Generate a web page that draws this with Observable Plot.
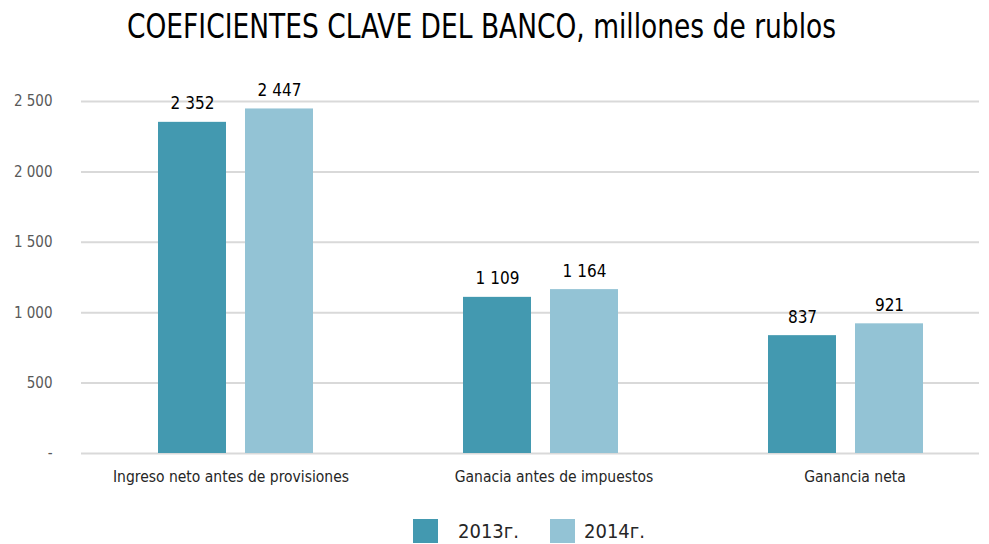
<!DOCTYPE html>
<html><head><meta charset="utf-8">
<script src="https://cdn.jsdelivr.net/npm/d3@7"></script>
<script src="https://cdn.jsdelivr.net/npm/@observablehq/plot@0.6"></script>
<style>
body{margin:0;background:#fff;width:989px;font-family:"Liberation Sans Narrow","DejaVu Sans Condensed","Open Sans",sans-serif;font-stretch:condensed;}
#title{height:60px;position:relative;}
#title span{position:absolute;left:127px;top:9px;font-size:33px;line-height:36px;white-space:nowrap;color:#000;transform-origin:left top;}
#legend{height:44px;position:relative;}
.sw{position:absolute;top:19px;width:25px;height:24px;}
.lt{position:absolute;top:19px;font-size:20px;line-height:24px;color:#262626;white-space:nowrap;}
</style></head>
<body>
<div id="title"><span>COEFICIENTES CLAVE DEL BANCO, millones de rublos</span></div>
<div id="chart"></div>
<div id="legend"></div>
<script>
const categories = ["Ingreso neto antes de provisiones", "Ganacia antes de impuestos", "Ganancia neta"];
const years = ["2013г.", "2014г."];
const values2013 = [2352, 1109, 837];
const values2014 = [2447, 1164, 921];
const yTicks = [0, 500, 1000, 1500, 2000, 2500];
const colors = ["#4399b0", "#93c3d5"];

const fmtNum = d3.formatLocale({decimal: ",", thousands: " ", grouping: [3]}).format(",");
const tickFmt = d => d === 0 ? "-" : fmtNum(d);

const d13 = categories.map((c, i) => ({category: c, value: values2013[i]}));
const d14 = categories.map((c, i) => ({category: c, value: values2014[i]}));

const font = '"Liberation Sans Narrow","DejaVu Sans Condensed","Open Sans",sans-serif';
const labelShift = [-5, 13, 9];

const chart = Plot.plot({
  width: 989,
  height: 440,
  marginLeft: 81,
  marginRight: 10,
  marginTop: 41,
  marginBottom: 47,
  style: {fontFamily: font, background: "#fff"},
  x: {domain: categories, range: [81.6, 999], padding: 0},
  y: {domain: [0, 2500]},
  marks: [
    Plot.ruleY(yTicks, {stroke: "#d9d9d9", strokeWidth: 2}),
    Plot.barY(d13, {x: "category", y: "value", fill: colors[0], insetLeft: 75, insetRight: 162}),
    Plot.barY(d14, {x: "category", y: "value", fill: colors[1], insetLeft: 162, insetRight: 75}),
    Plot.text(d13, {x: "category", y: "value", text: d => fmtNum(d.value), dx: -43.5, dy: -13, lineAnchor: "bottom", fontSize: 17, fill: "#000"}),
    Plot.text(d14, {x: "category", y: "value", text: d => fmtNum(d.value), dx: 43.5, dy: -13, lineAnchor: "bottom", fontSize: 17, fill: "#000"}),
    Plot.axisY({ticks: yTicks, tickSize: 0, tickPadding: 29, tickFormat: tickFmt, fontSize: 15, fill: "#595959", label: null}),
    ...categories.map((c, i) => Plot.axisX({ticks: [c], tickSize: 0, tickPadding: 17, dx: labelShift[i], fontSize: 15.5, fill: "#262626", label: null}))
  ]
});
document.getElementById("chart").appendChild(chart);

// fit title width to reference
const t = document.querySelector("#title span");
const w = t.getBoundingClientRect().width;
t.style.transform = `scaleX(${709 / w})`;

const leg = document.getElementById("legend");
const swX = [413, 550], txX = [458, 584];
years.forEach((y, i) => {
  const s = document.createElement("div");
  s.className = "sw"; s.style.left = swX[i] + "px"; s.style.background = colors[i];
  leg.appendChild(s);
  const l = document.createElement("div");
  l.className = "lt"; l.style.left = txX[i] + "px"; l.textContent = y;
  leg.appendChild(l);
});
</script>
</body></html>
